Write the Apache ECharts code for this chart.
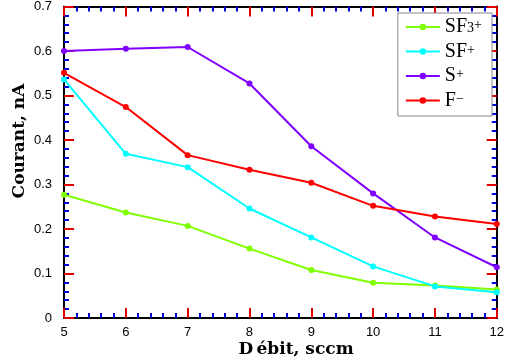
<!DOCTYPE html>
<html><head><meta charset="utf-8">
<script src="https://cdn.jsdelivr.net/npm/echarts@6/dist/echarts.min.js"></script>
<style>html,body{margin:0;padding:0;background:#fff}#c{width:507px;height:363px;background:#fff}</style>
</head><body><div id="c"></div>
<script>
const debit = [5, 6, 7, 8, 9, 10, 11, 12];
const sf3 = [0.277, 0.237, 0.207, 0.156, 0.108, 0.079, 0.073, 0.064];
const sf = [0.536, 0.369, 0.339, 0.246, 0.181, 0.116, 0.071, 0.058];
const s = [0.600, 0.605, 0.609, 0.527, 0.386, 0.280, 0.181, 0.114];
const f = [0.551, 0.474, 0.366, 0.333, 0.304, 0.252, 0.228, 0.211];
const names = ['SF3+', 'SF+', 'S+', 'F-'];
const colors = ['#80ff00', '#00ffff', '#7f00ff', '#ff0000'];
const xLabel = 'D\u2009ébit, sccm';
const yLabel = 'Courant, nA';

const chart = echarts.init(document.getElementById('c'));
const pairs = arr => debit.map((x, i) => [x, arr[i]]);
const allData = [sf3, sf, s, f];
const ax = (isX, pos, showLabel) => ({
  type: 'value',
  min: isX ? 5 : 0, max: isX ? 12 : 0.7, interval: isX ? 1 : 0.1,
  position: pos,
  axisLabel: {show: showLabel, margin: isX ? 8 : 12, color: '#000', fontFamily: 'Liberation Sans', fontSize: 13,
    formatter: v => (v === 0 ? '0' : (isX ? String(v) : v.toFixed(1)))},
  axisLine: {show: true, onZero: false, lineStyle: {color: '#000', width: 2}},
  axisTick: {show: true, inside: true, length: 10, lineStyle: {color: '#d00', width: 2}},
  minorTick: {show: true, splitNumber: 5, length: 5, lineStyle: {color: '#00d', width: 2}},
  splitLine: {show: false}
});
const legendFmt = {
  'SF3+': '{b|SF}{sub|3}{sup|+}',
  'SF+': '{b|SF}{sup|+}',
  'S+': '{b|S}{sup|+}',
  'F-': '{b|F}{sup|−}'
};
chart.setOption({
  animation: false,
  grid: {left: 64, right: 9, top: 6, bottom: 45},
  xAxis: [ax(true, 'bottom', true), ax(true, 'top', false)],
  yAxis: [ax(false, 'left', true), ax(false, 'right', false)],
  legend: {
    orient: 'vertical', right: 15, top: 13, width: 80,
    padding: [4, 10, 4, 7], itemGap: 3,
    itemWidth: 34, itemHeight: 8,
    borderColor: '#888', borderWidth: 1, backgroundColor: '#fff',
    data: names,
    formatter: n => legendFmt[n],
    textStyle: {
      color: '#000', fontFamily: 'Liberation Serif',
      rich: {
        b: {fontFamily: 'Liberation Serif', fontSize: 20, color: '#000', lineHeight: 17},
        sup: {fontFamily: 'Liberation Serif', fontSize: 14, color: '#000', verticalAlign: 'top', lineHeight: 17, padding: [0, 0, 6, 0]},
        sub: {fontFamily: 'Liberation Serif', fontSize: 14, color: '#000', verticalAlign: 'bottom', lineHeight: 17}
      }
    }
  },
  series: names.map((n, i) => ({
    name: n, type: 'line', data: pairs(allData[i]),
    symbol: 'circle', symbolSize: 6,
    itemStyle: {color: colors[i]},
    lineStyle: {color: colors[i], width: 2}
  })),
  graphic: [
    {type: 'text', x: 296, y: 350,
      style: {text: xLabel, fill: '#000', font: 'bold 17px "DejaVu Serif"', align: 'center', verticalAlign: 'middle'}},
    {type: 'text', x: 20, y: 141, rotation: Math.PI / 2,
      style: {text: yLabel, fill: '#000', font: 'bold 17px "DejaVu Serif"', align: 'center', verticalAlign: 'middle'}}
  ]
});
</script></body></html>
